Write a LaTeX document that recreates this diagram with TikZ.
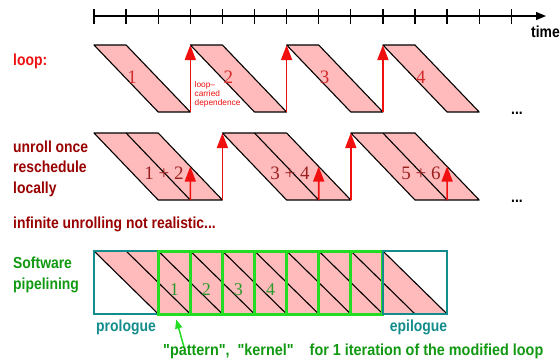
\documentclass[tikz,border=0pt]{standalone}
\usepackage{fontspec}
\setmainfont{Liberation Sans}
\newfontfamily\labfont[FakeStretch=0.87]{Liberation Sans}
\newfontfamily\wlabfont[FakeStretch=0.9]{Liberation Sans}
\newfontfamily\digfont{Liberation Serif}
\usetikzlibrary{arrows.meta,calc}
\definecolor{myred}{HTML}{F01010}
\definecolor{loopred}{HTML}{EE1111}
\definecolor{darkred}{HTML}{990000}
\definecolor{parpink}{HTML}{FFBBBB}
\definecolor{txtgreen}{HTML}{119911}
\definecolor{brightgreen}{HTML}{22DD22}
\definecolor{tealc}{HTML}{138C8C}
\definecolor{lblred}{HTML}{D42A2A}
\definecolor{lbldark}{HTML}{9A2020}
\definecolor{diggreen}{HTML}{2A9A2A}
\begin{document}
\begin{tikzpicture}[x=1pt,y=-1pt,
  para/.style={fill=parpink,draw=black,line width=1.1pt,line join=round},
  dep/.style={draw=myred,line width=1.6pt,-{Triangle[length=15pt,width=11pt]}},
  lbl/.style={font=\labfont\bfseries\fontsize{16}{20.5}\selectfont,inner sep=0pt,anchor=west,align=left},
  numred/.style={font=\digfont\fontsize{19}{19}\selectfont,text=lblred,inner sep=0pt},
  numdark/.style={font=\digfont\fontsize{19}{19}\selectfont,text=lbldark,inner sep=0pt},
  numgreen/.style={font=\digfont\fontsize{18}{18}\selectfont,text=diggreen,inner sep=0pt},
  kbox/.style={draw=brightgreen,line width=3pt,minimum width=32.1pt,minimum height=63pt,inner sep=0pt},
  ebox/.style={draw=tealc,line width=2.5pt,minimum width=64.2pt,minimum height=63pt,inner sep=0pt},
  dots/.style={font=\labfont\bfseries\fontsize{16}{16}\selectfont,inner sep=0pt,anchor=base west}
]
\useasboundingbox[fill=white] (0,0) rectangle (560,360);

% time axis
\coordinate (tstart) at (94,16);
\coordinate (tend) at (546,16);
\draw[line width=1.3pt,-{Triangle[length=10pt,width=8pt]}] (tstart) -- (tend);
\foreach \k in {0,...,13}{
  \draw[line width=1.3pt] (94+32.1*\k,9) -- (94+32.1*\k,24);
}
\node[lbl,text=black] (time) at (531,32) {time};

% row 1: loop
\node[lbl,text=loopred] (loop) at (13,61) {loop:};
\foreach \i in {0,1,2,3}{
  \pgfmathsetmacro\xa{94+96.3*\i}
  \coordinate (Atl\i) at (\xa,45);
  \coordinate (Atr\i) at (\xa+32.1,45);
  \coordinate (Abr\i) at (\xa+96.3,112);
  \coordinate (Abl\i) at (\xa+64.2,112);
  \draw[para] (Atl\i) -- (Atr\i) -- (Abr\i) -- (Abl\i) -- cycle;
  \pgfmathtruncatemacro\nn{\i+1}
  \node[numred] (N\i) at (\xa+38,77) {\nn};
}
\draw[dep] (Abr0) -- (Atl1);
\draw[dep] (Abr1) -- (Atl2);
\draw[dep] (Abr2) -- (Atl3);
\node[font=\fontsize{8.3}{9}\selectfont,text=myred,inner sep=0pt,anchor=north west,align=left] (lcd) at (194.5,81) {loop--\\carried\\dependence};
\node[dots] (dots1) at (511,114) {...};

% row 2: unroll once
\node[lbl,text=darkred] (unroll) at (13,168.5) {unroll once\\reschedule\\locally};
\foreach \j in {0,1,2}{
  \pgfmathsetmacro\xa{94+128.4*\j}
  \coordinate (Btl\j) at (\xa,133);
  \coordinate (Btm\j) at (\xa+32.1,133);
  \coordinate (Btr\j) at (\xa+64.2,133);
  \coordinate (Bbr\j) at (\xa+128.4,200);
  \coordinate (Bbm\j) at (\xa+96.3,200);
  \coordinate (Bbl\j) at (\xa+64.2,200);
  \coordinate (Bm\j) at ($(Btr\j)!0.5!(Bbr\j)$);
  \draw[para] (Btl\j) -- (Btr\j) -- (Bbr\j) -- (Bbl\j) -- cycle;
  \draw[line width=1.1pt] (Btm\j) -- (Bbm\j);
  \draw[dep] (Bbm\j) -- (Bm\j);
}
\node[numdark] (L12) at (164,173) {1 + 2};
\node[numdark] (L34) at (290,173) {3 + 4};
\node[numdark] (L56) at (421,173) {5 + 6};
\draw[dep] (Bbr0) -- (Btl1);
\draw[dep] (Bbr1) -- (Btl2);
\node[dots] (dots2) at (511,202) {...};

\node[lbl,text=darkred] (infinite) at (13,224) {infinite unrolling not realistic...};

% row 3: software pipelining
\node[lbl,text=txtgreen] (swp) at (13,275) {Software\\pipelining};
\fill[parpink] (94,251) -- (382.9,251) -- (447.1,314) -- (158.2,314) -- cycle;
\foreach \k in {0,...,9}{
  \draw[line width=1.1pt] (94+32.1*\k,251) -- (158.2+32.1*\k,314);
}
\node[ebox] (PRO) at (126.1,282.5) {};
\node[kbox] (K1) at (174.25,282.5) {};
\node[kbox] (K2) at (206.35,282.5) {};
\node[kbox] (K3) at (238.45,282.5) {};
\node[kbox] (K4) at (270.55,282.5) {};
\node[kbox] (K5) at (302.65,282.5) {};
\node[kbox] (K6) at (334.75,282.5) {};
\node[kbox] (K7) at (366.85,282.5) {};
\node[ebox] (EPI) at (415,282.5) {};
\node[numgreen] (G1) at (174.25,290) {1};
\node[numgreen] (G2) at (206.35,290) {2};
\node[numgreen] (G3) at (238.45,290) {3};
\node[numgreen] (G4) at (270.55,290) {4};

\node[lbl,text=tealc,anchor=center] (prologue) at (126,327) {prologue};
\node[lbl,text=tealc,anchor=center] (epilogue) at (418.5,327) {epilogue};

\coordinate (gtail) at (184,347);
\coordinate (gtip) at ($(K1.south)+(2,4)$);
\draw[draw=brightgreen,line width=1.5pt,-{Triangle[length=9pt,width=7pt]}] (gtail) -- (gtip);
\node[lbl,font=\wlabfont\bfseries\fontsize{16}{20.5}\selectfont,text=txtgreen] (kernel) at (163,351) {"pattern",\hspace{8pt}"kernel"\hspace{16pt}for 1 iteration of the modified loop};
\end{tikzpicture}
\end{document}
